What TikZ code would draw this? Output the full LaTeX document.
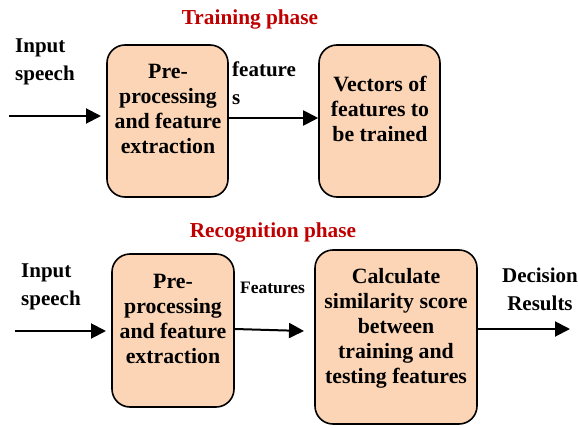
\documentclass[tikz,border=0pt]{standalone}
\usepackage{fontspec}
\setmainfont{Liberation Serif}
\usetikzlibrary{arrows.meta}
\definecolor{peach}{HTML}{FBD5B5}
\definecolor{darkred}{HTML}{C00000}
\begin{document}
\begin{tikzpicture}[x=1pt,y=-1pt,
 box/.style={draw=black,line width=1.6pt,fill=peach,rounded corners=18pt,inner sep=0pt},
 txt/.style={font=\fontsize{21.8}{25}\selectfont\bfseries,align=center,inner sep=0pt},
 lbl/.style={font=\fontsize{21}{28}\selectfont\bfseries,align=left,inner sep=0pt,anchor=west},
 ttl/.style={font=\fontsize{21.3}{25}\selectfont\bfseries,text=darkred,inner sep=0pt},
 arr/.style={line width=2pt,-{Triangle[length=15pt,width=15pt]}}]
\useasboundingbox (0,0) rectangle (578,428);
% titles
\node[ttl] (t1) at (250,19) {Training phase};
\node[ttl] (t2) at (273,232) {Recognition phase};
% training row
\node[box,minimum width=121pt,minimum height=152pt] (b1) at (167.5,121) {};
\node[box,minimum width=121pt,minimum height=152pt] (b2) at (379.5,121) {};
\node[txt] (x1) at (168,108.5) {Pre-\\processing\\and feature\\extraction};
\node[txt] (x2) at (380,108.5) {Vectors of\\features to\\be trained};
\node[lbl] (l1) at (15,62) {Input\\speech};
\node[lbl] (l2) at (232,83) {feature\\s};
\coordinate (s1) at (9,116);
\coordinate (e1) at (101,116);
\draw[arr] (s1) -- (e1);
\draw[arr] (b1.east |- 0,118) -- (b2.west |- 0,118);
% recognition row
\node[box,minimum width=122pt,minimum height=153pt] (b3) at (173,330.5) {};
\node[box,minimum width=162pt,minimum height=174pt] (b4) at (396,337) {};
\node[txt] (x3) at (173,319) {Pre-\\processing\\and feature\\extraction};
\node[txt] (x4) at (396,328.5) {Calculate\\similarity score\\between\\training and\\testing features};
\node[lbl] (l3) at (21,286.5) {Input\\speech};
\node[inner sep=0pt,anchor=west,font=\fontsize{17.5}{20}\selectfont\bfseries] (l4) at (240,288) {Features};
\node[inner sep=0pt,align=center,font=\fontsize{21}{28}\selectfont\bfseries] (l5) at (540,289) {Decision\\Results};
\coordinate (s3) at (15,331);
\coordinate (e3) at (106,331);
\coordinate (e4) at (304,331);
\coordinate (e5) at (570,329);
\draw[arr] (s3) -- (e3);
\draw[arr] (b3.east |- 0,329) -- (e4);
\draw[arr] (b4.east |- 0,329) -- (e5);
\end{tikzpicture}
\end{document}
